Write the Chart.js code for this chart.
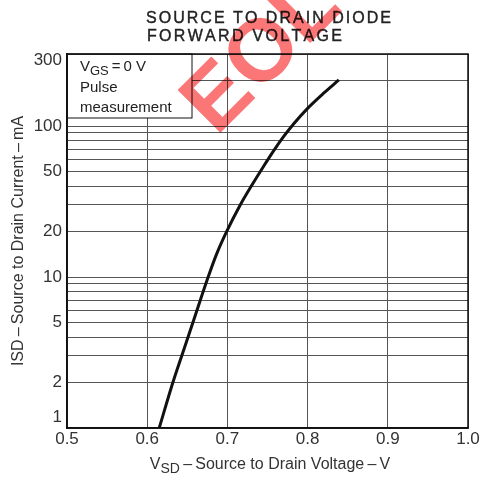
<!DOCTYPE html>
<html>
<head>
<meta charset="utf-8">
<script src="https://cdn.jsdelivr.net/npm/chart.js@4.4.1/dist/chart.umd.min.js"></script>
<style>
  body { margin: 0; background: #fff; }
  canvas { display: block; }
</style>
</head>
<body>
<canvas id="grafico" width="482" height="479"></canvas>
<script>
// dados
const titulo = ['SOURCE TO DRAIN DIODE', 'FORWARD VOLTAGE'];
const tensaoVSD = [0.615, 0.632, 0.643, 0.657, 0.676, 0.687, 0.699, 0.716, 0.731, 0.745, 0.758, 0.770, 0.783, 0.800, 0.820, 0.839];
const correnteISD = [1, 2, 3, 5, 10, 14.4, 20, 30, 41, 54, 69, 85, 104, 131, 165, 202];
const ticksX = [0.5, 0.6, 0.7, 0.8, 0.9, 1.0];
const gradeY = [1, 2, 3, 4, 5, 6, 7, 8, 9, 10, 20, 30, 40, 50, 60, 70, 80, 90, 100, 200, 300];
const rotulosY = [1, 2, 5, 10, 20, 50, 100, 300];

const fonte = '"Liberation Sans", Arial, sans-serif';

// escreve texto com espaçamento entre letras ate ocupar a largura pedida
function textoEspacado(ctx, texto, x, y, largura) {
    const larguras = [...texto].map(c => ctx.measureText(c).width);
    const total = larguras.reduce((a, b) => a + b, 0);
    const espaco = (largura - total) / (texto.length - 1);
    let px = x;
    [...texto].forEach((c, i) => {
        ctx.fillText(c, px, y);
        ctx.strokeText(c, px, y);
        px += larguras[i] + espaco;
    });
}

const extras = {
    id: 'extras',
    afterDraw(chart) {
        const ctx = chart.ctx;
        const area = chart.chartArea;
        const y = chart.scales.y;
        ctx.save();

        // moldura do grafico
        ctx.strokeStyle = '#111';
        ctx.lineWidth = 1.5;
        ctx.strokeRect(area.left, area.top, area.right - area.left, area.bottom - area.top);

        // titulo
        ctx.fillStyle = '#222';
        ctx.strokeStyle = '#222';
        ctx.lineWidth = 0.4;
        ctx.textBaseline = 'alphabetic';
        ctx.textAlign = 'left';
        ctx.font = '16px ' + fonte;
        textoEspacado(ctx, titulo[0], 146, 23, 245);
        textoEspacado(ctx, titulo[1], 147, 41, 195);

        // rotulos do eixo y
        ctx.fillStyle = '#333';
        ctx.font = '17px ' + fonte;
        ctx.textAlign = 'right';
        ctx.textBaseline = 'middle';
        rotulosY.forEach(v => {
            let py = y.getPixelForValue(v);
            py = Math.min(Math.max(py, area.top + 6), area.bottom - 11);
            ctx.fillText(String(v), area.left - 5, py);
        });

        // caixa de condicoes
        ctx.fillStyle = '#fff';
        ctx.fillRect(area.left + 1, area.top + 1, 192 - area.left - 1, 118 - area.top - 1);
        ctx.strokeStyle = '#111';
        ctx.lineWidth = 1;
        ctx.strokeRect(area.left, area.top, 192 - area.left, 118 - area.top);
        ctx.fillStyle = '#222';
        ctx.textAlign = 'left';
        ctx.textBaseline = 'alphabetic';
        ctx.font = '15px ' + fonte;
        let px = 80;
        ctx.fillText('V', px, 71);
        px += ctx.measureText('V').width;
        ctx.font = '13px ' + fonte;
        ctx.fillText('GS', px, 75);
        px += ctx.measureText('GS').width;
        ctx.font = '15px ' + fonte;
        ctx.fillText('\u2009=\u20090 V', px, 71);
        ctx.fillText('Pulse', 80, 92);
        ctx.fillText('measurement', 80, 112);

        // titulo eixo x
        ctx.fillStyle = '#333';
        const resto = '\u2009\u2013\u2009Source to Drain Voltage\u2009\u2013\u2009V';
        ctx.font = '16px ' + fonte;
        const wV = ctx.measureText('V').width;
        const wR = ctx.measureText(resto).width;
        ctx.font = '14px ' + fonte;
        const wS = ctx.measureText('SD').width;
        let xx = 270 - (wV + wS + wR) / 2;
        ctx.font = '16px ' + fonte;
        ctx.fillText('V', xx, 469);
        xx += wV;
        ctx.font = '14px ' + fonte;
        ctx.fillText('SD', xx, 473);
        xx += wS;
        ctx.font = '16px ' + fonte;
        ctx.fillText(resto, xx, 469);

        // titulo eixo y
        ctx.translate(23, 241);
        ctx.rotate(-Math.PI / 2);
        ctx.textAlign = 'center';
        ctx.font = '16px ' + fonte;
        ctx.fillText('ISD\u2009\u2013\u2009Source to Drain Current\u2009\u2013\u2009mA', 0, 0);
        ctx.restore();

        // marca d'agua
        ctx.save();
        ctx.globalCompositeOperation = 'multiply';
        ctx.translate(263, 56);
        ctx.rotate(-Math.PI / 4);
        ctx.fillStyle = 'rgba(250, 95, 95, 0.85)';
        ctx.font = 'bold 88px ' + fonte;
        ctx.textAlign = 'center';
        ctx.textBaseline = 'middle';
        ctx.fillText('EOL', 0, 0);
        ctx.restore();
    }
};

const graficoDiodo = new Chart(document.querySelector('#grafico'), {
    type: 'line',
    data: {
        datasets: [{
            data: tensaoVSD.map((v, i) => ({ x: v, y: correnteISD[i] })),
            borderColor: '#111',
            borderWidth: 3,
            pointRadius: 0,
            cubicInterpolationMode: 'monotone',
            fill: false
        }]
    },
    options: {
        responsive: false,
        animation: false,
        layout: { padding: { top: 54, right: 14, left: 0, bottom: 0 } },
        plugins: { legend: { display: false }, tooltip: { enabled: false } },
        scales: {
            x: {
                type: 'linear',
                min: 0.5,
                max: 1.0,
                afterBuildTicks: s => { s.ticks = ticksX.map(v => ({ value: v })); },
                afterFit: s => { s.height = 51; },
                ticks: {
                    callback: v => v.toFixed(1),
                    font: { size: 17, family: fonte },
                    color: '#333',
                    padding: 1,
                    maxRotation: 0,
                    autoSkip: false
                },
                grid: { color: '#555', lineWidth: 1, drawTicks: false },
                border: { color: '#111', width: 1.5 }
            },
            y: {
                type: 'logarithmic',
                min: 1,
                max: 300,
                afterBuildTicks: s => { s.ticks = gradeY.map(v => ({ value: v })); },
                afterFit: s => { s.width = 67; },
                ticks: { display: false },
                grid: { color: '#555', lineWidth: 1, drawTicks: false },
                border: { color: '#111', width: 1.5 }
            }
        }
    },
    plugins: [extras]
});
</script>
</body>
</html>
